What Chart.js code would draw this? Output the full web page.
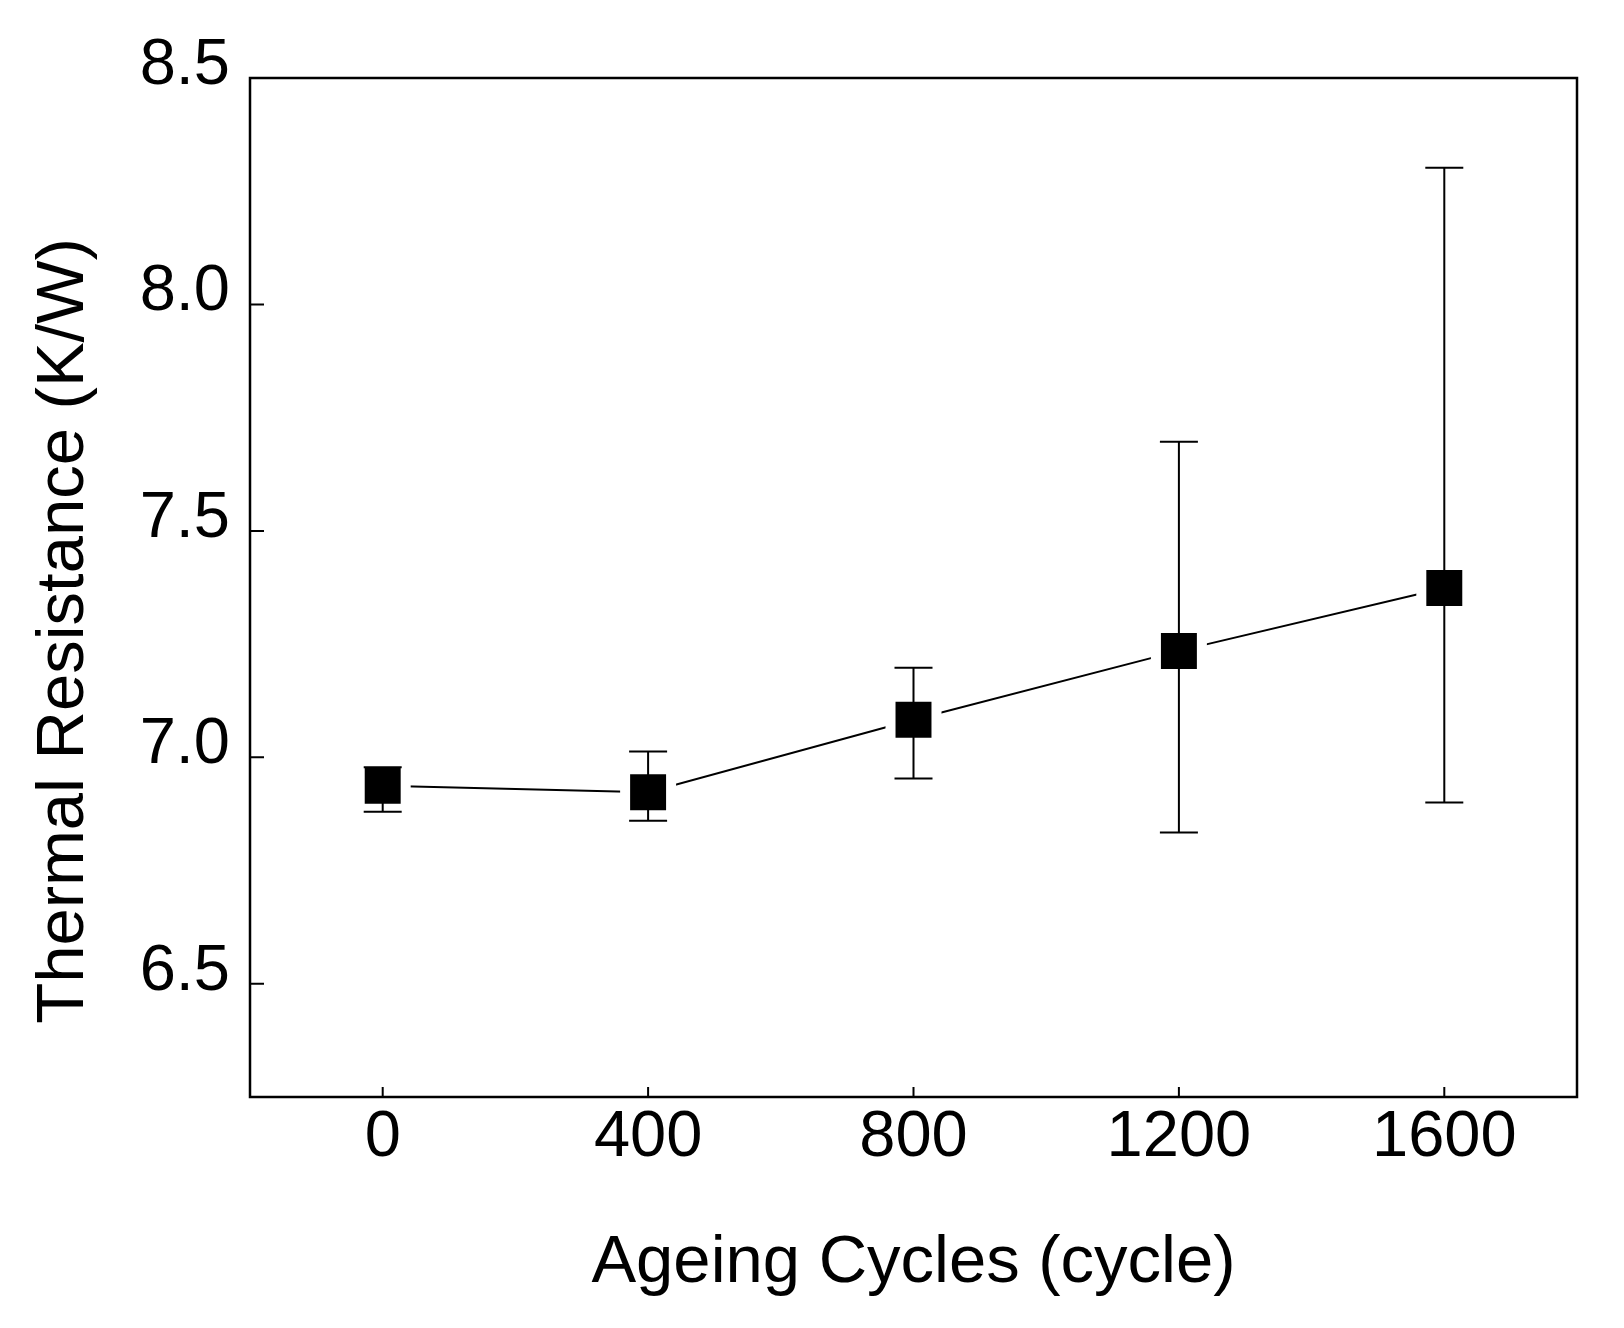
<!DOCTYPE html>
<html>
<head>
<meta charset="utf-8">
<script src="https://cdn.jsdelivr.net/npm/chart.js@4.4.0/dist/chart.umd.min.js"></script>
<style>
  html, body { margin: 0; padding: 0; background: #fff; }
  canvas { display: block; }
</style>
</head>
<body>
<canvas id="chart" width="1624" height="1328"></canvas>
<script>
// datos
const cycles     = [0, 400, 800, 1200, 1600];
const resistance = [6.937, 6.923, 7.083, 7.235, 7.374];
const errUpper   = [6.978, 7.013, 7.198, 7.697, 8.302];
const errLower   = [6.880, 6.860, 6.953, 6.834, 6.900];

const xTicks = [0, 400, 800, 1200, 1600];
const yTicks = [6.5, 7.0, 7.5, 8.0, 8.5];

const X_TITLE = 'Ageing Cycles (cycle)';
const Y_TITLE = 'Thermal Resistance (K/W)';
const FONT    = '"Liberation Sans", Arial, sans-serif';

// barras de error verticales con tapas
const errorBars = {
  id: 'errorBars',
  afterDatasetsDraw(chart) {
    const { ctx, scales: { x, y } } = chart;
    ctx.save();
    ctx.strokeStyle = '#000';
    ctx.lineWidth = 2;
    cycles.forEach((c, i) => {
      const px = x.getPixelForValue(c);
      const top = y.getPixelForValue(errUpper[i]);
      const bot = y.getPixelForValue(errLower[i]);
      ctx.beginPath();
      ctx.moveTo(px, top); ctx.lineTo(px, bot);
      ctx.moveTo(px - 19, top); ctx.lineTo(px + 19, top);
      ctx.moveTo(px - 19, bot); ctx.lineTo(px + 19, bot);
      ctx.stroke();
    });
    ctx.restore();
  }
};

// marco, ticks hacia dentro y títulos de ejes
const frame = {
  id: 'frame',
  afterDraw(chart) {
    const { ctx, chartArea: a, scales: { x, y } } = chart;
    ctx.save();
    ctx.strokeStyle = '#000';
    ctx.lineWidth = 2.5;
    ctx.strokeRect(a.left, a.top, a.right - a.left, a.bottom - a.top);

    ctx.lineWidth = 2;
    ctx.beginPath();
    x.ticks.forEach(t => {
      const px = x.getPixelForValue(t.value);
      ctx.moveTo(px, a.bottom); ctx.lineTo(px, a.bottom - 10);
    });
    y.ticks.forEach(t => {
      const py = y.getPixelForValue(t.value);
      ctx.moveTo(a.left, py); ctx.lineTo(a.left + 14, py);
    });
    ctx.stroke();

    ctx.fillStyle = '#000';
    ctx.font = '67px ' + FONT;
    ctx.textAlign = 'center';
    ctx.textBaseline = 'alphabetic';
    ctx.fillText(X_TITLE, (a.left + a.right) / 2, 1282);

    ctx.translate(83, 631);
    ctx.rotate(-Math.PI / 2);
    ctx.fillText(Y_TITLE, 0, 0);
    ctx.restore();
  }
};

new Chart(document.getElementById('chart'), {
  type: 'scatter',
  data: {
    datasets: [{
      data: cycles.map((c, i) => ({ x: c, y: resistance[i] })),
      showLine: true,
      borderColor: '#000',
      borderWidth: 2,
      pointStyle: 'rect',
      pointRadius: 32.5,
      pointBackgroundColor: '#000',
      pointBorderColor: '#fff',
      pointBorderWidth: 10,
    }]
  },
  options: {
    responsive: false,
    devicePixelRatio: 1,
    animation: false,
    events: [],
    layout: { padding: { top: 78, right: 47, left: 0, bottom: 0 } },
    plugins: {
      legend:  { display: false },
      tooltip: { enabled: false },
    },
    scales: {
      x: {
        type: 'linear',
        min: -200,
        max: 1800,
        afterBuildTicks: s => { s.ticks = xTicks.map(v => ({ value: v })); },
        afterFit: s => { s.height = 231; },
        grid:   { display: false, drawTicks: false, tickLength: 0 },
        border: { display: false },
        ticks: {
          color: '#000',
          font: { family: FONT, size: 65 },
          padding: 2,
          maxRotation: 0,
          autoSkip: false,
          callback: v => String(v),
        },
      },
      y: {
        min: 6.25,
        max: 8.5,
        afterBuildTicks: s => { s.ticks = yTicks.map(v => ({ value: v })); },
        afterFit: s => { s.width = 250; },
        grid:   { display: false, drawTicks: false, tickLength: 0 },
        border: { display: false },
        ticks: {
          color: '#000',
          font: { family: FONT, size: 65 },
          padding: 20,
          labelOffset: -12,
          autoSkip: false,
          callback: v => Number(v).toFixed(1),
        },
      },
    },
  },
  plugins: [errorBars, frame],
});
</script>
</body>
</html>
